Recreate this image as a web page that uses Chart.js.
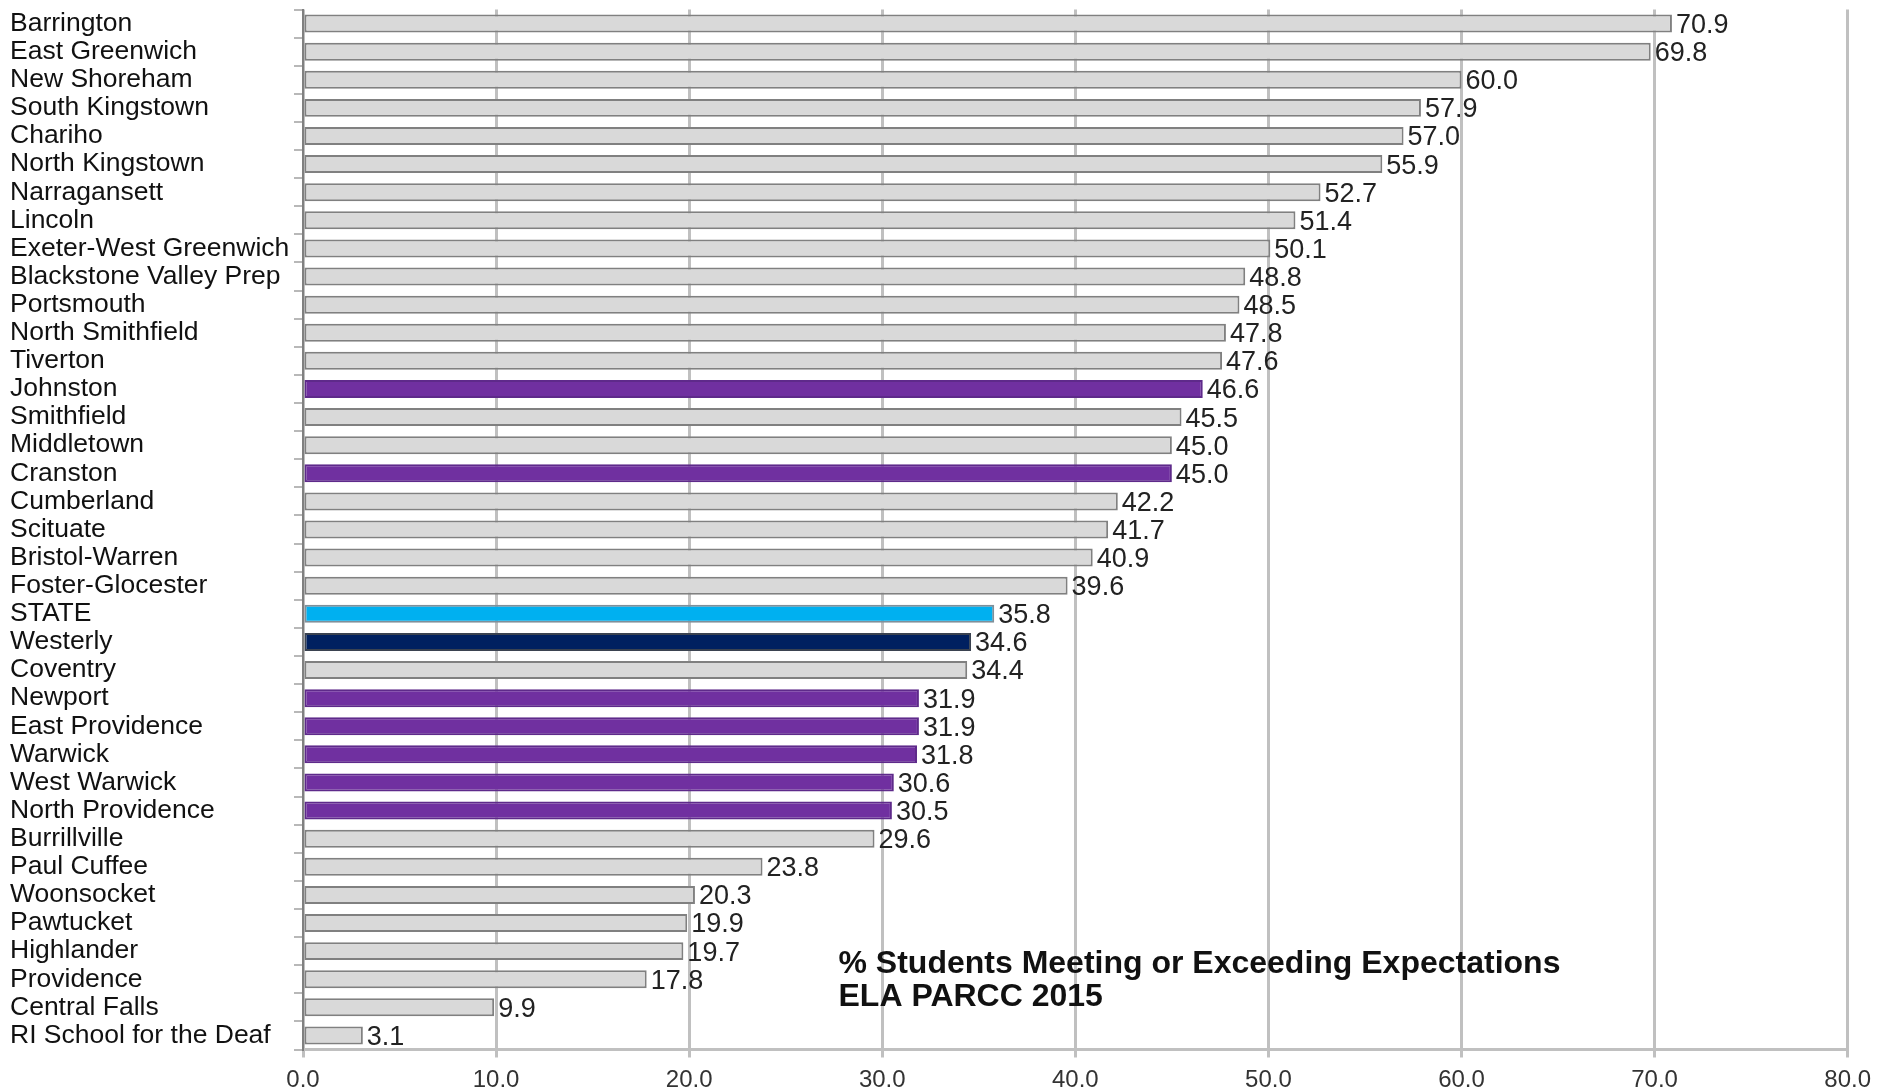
<!DOCTYPE html>
<html>
<head>
<meta charset="utf-8">
<script src="https://cdn.jsdelivr.net/npm/chart.js@4"></script>
<style>
  html, body { margin: 0; padding: 0; background: #fff; }
  #wrap { width: 1879px; height: 1088px; }
</style>
</head>
<body>
<div id="wrap"><canvas id="c" width="1879" height="1088"></canvas></div>
<script>
const categories = [
  "Barrington", "East Greenwich", "New Shoreham", "South Kingstown", "Chariho",
  "North Kingstown", "Narragansett", "Lincoln", "Exeter-West Greenwich",
  "Blackstone Valley Prep", "Portsmouth", "North Smithfield", "Tiverton",
  "Johnston", "Smithfield", "Middletown", "Cranston", "Cumberland", "Scituate",
  "Bristol-Warren", "Foster-Glocester", "STATE", "Westerly", "Coventry",
  "Newport", "East Providence", "Warwick", "West Warwick", "North Providence",
  "Burrillville", "Paul Cuffee", "Woonsocket", "Pawtucket", "Highlander",
  "Providence", "Central Falls", "RI School for the Deaf"
];
const values = [
  70.9, 69.8, 60.0, 57.9, 57.0, 55.9, 52.7, 51.4, 50.1, 48.8, 48.5, 47.8, 47.6,
  46.6, 45.5, 45.0, 45.0, 42.2, 41.7, 40.9, 39.6, 35.8, 34.6, 34.4,
  31.9, 31.9, 31.8, 30.6, 30.5, 29.6, 23.8, 20.3, 19.9, 19.7, 17.8, 9.9, 3.1
];
const purpleGroup = ["Johnston", "Cranston", "Newport", "East Providence", "Warwick", "West Warwick", "North Providence"];
const stateName = "STATE";
const highlightName = "Westerly";
const xTicks = [0, 10, 20, 30, 40, 50, 60, 70, 80];
const titleLines = ["% Students Meeting or Exceeding Expectations", "ELA PARCC 2015"];

const fills = categories.map(c =>
  c === stateName ? "#00b0f0" :
  c === highlightName ? "#002060" :
  purpleGroup.includes(c) ? "#7030a0" : "#d9d9d9");
const borders = categories.map(c =>
  c === stateName ? "#7f8f99" :
  c === highlightName ? "#3a4250" :
  purpleGroup.includes(c) ? "#5e2a8a" : "#808080");

const FONT = "'Liberation Sans', Arial, sans-serif";

const valueLabels = {
  id: "valueLabels",
  afterDatasetsDraw(chart) {
    const ctx = chart.ctx;
    const meta = chart.getDatasetMeta(0);
    ctx.save();
    ctx.font = "27px " + FONT;
    ctx.fillStyle = "#222";
    ctx.textAlign = "left";
    ctx.textBaseline = "middle";
    meta.data.forEach((bar, i) => {
      ctx.fillText(values[i].toFixed(1), bar.x + 4, bar.y + 2);
    });
    ctx.restore();
  }
};

const titlePlugin = {
  id: "innerTitle",
  afterDatasetsDraw(chart) {
    const ctx = chart.ctx;
    const a = chart.chartArea;
    ctx.save();
    ctx.font = "bold 32px " + FONT;
    ctx.fillStyle = "#111";
    ctx.textAlign = "left";
    ctx.textBaseline = "middle";
    const x = a.left + (a.right - a.left) * 0.3467;
    ctx.fillText(titleLines[0], x, a.top + (a.bottom - a.top) * 0.918);
    ctx.fillText(titleLines[1], x, a.top + (a.bottom - a.top) * 0.950);
    ctx.restore();
  }
};

new Chart(document.getElementById("c"), {
  type: "bar",
  data: {
    labels: categories,
    datasets: [{
      data: values,
      backgroundColor: fills,
      borderColor: borders,
      borderWidth: 2,
      borderSkipped: false,
      barPercentage: 0.64,
      categoryPercentage: 1
    }]
  },
  options: {
    indexAxis: "y",
    responsive: false,
    animation: false,
    devicePixelRatio: 1,
    layout: { padding: { left: 10, right: 22, top: 9.5, bottom: 0 } },
    plugins: { legend: { display: false }, tooltip: { enabled: false }, title: { display: false } },
    scales: {
      x: {
        min: 0, max: 80,
        afterBuildTicks(scale) { scale.ticks = xTicks.map(v => ({ value: v })); },
        afterFit(scale) { scale.height = 38.5; },
        grid: { color: "#c0c0c0", lineWidth: 3, tickLength: 8, drawTicks: true },
        border: { color: "#c0c0c0", width: 3 },
        ticks: {
          color: "#333",
          font: { family: FONT, size: 24 },
          padding: 8,
          callback: v => Number(v).toFixed(1)
        }
      },
      y: {
        afterFit(scale) { scale.width = 293; scale.paddingTop = 0; scale.paddingBottom = 0; },
        grid: { offset: true, drawOnChartArea: false, drawTicks: true, tickLength: 9, color: "#b8b8b8", lineWidth: 2 },
        border: { color: "#808080", width: 2 },
        ticks: {
          autoSkip: false,
          crossAlign: "far",
          color: "#111",
          font: { family: FONT, size: 26.5 },
          padding: 6
        }
      }
    }
  },
  plugins: [valueLabels, titlePlugin]
});
</script>
</body>
</html>
